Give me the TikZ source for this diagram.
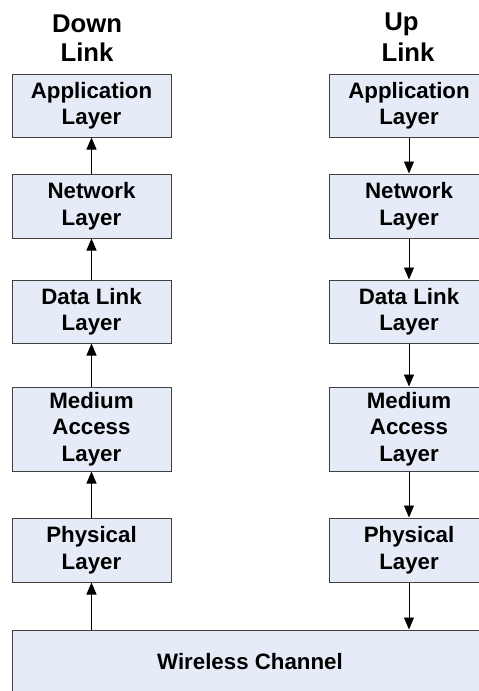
\documentclass[tikz,border=0pt]{standalone}
\usepackage{fontspec}
\setmainfont{Liberation Sans}
\usetikzlibrary{arrows.meta}
\definecolor{boxfill}{RGB}{230,236,247}
\definecolor{boxline}{RGB}{64,64,64}
\tikzset{
  layerbox/.style={draw=boxline, line width=1pt, fill=boxfill, minimum width=159pt,
    inner sep=0pt, align=center, font=\bfseries\fontsize{22.3}{26.5}\selectfont},
  heading/.style={inner sep=0pt, font=\bfseries\fontsize{25.7}{28}\selectfont},
  flow/.style={line width=0.9pt, -{Triangle[length=12pt,width=10pt]}}
}
\begin{document}
\begin{tikzpicture}[x=1pt,y=-1pt]
\useasboundingbox (0,0) rectangle (479,691);
% headings
\node[heading] (hd1) at (87,24) {Down};
\node[heading] (hd2) at (87,52) {Link};
\node[heading] (hu1) at (401.5,24) {Up};
\node[heading] (hu2) at (408,52) {Link};
% left column (down link)
\node[layerbox, minimum height=63pt] (lapp) at (91.5,105.5) {Application\\Layer};
\node[layerbox, minimum height=64pt] (lnet) at (91.5,206) {Network\\Layer};
\node[layerbox, minimum height=63pt] (ldll) at (91.5,311.5) {Data Link\\Layer};
\node[layerbox, minimum height=84pt] (lmac) at (91.5,429) {Medium\\Access\\Layer};
\node[layerbox, minimum height=64pt] (lphy) at (91.5,550) {Physical\\Layer};
% right column (up link)
\node[layerbox, minimum height=63pt] (rapp) at (409,105.5) {Application\\Layer};
\node[layerbox, minimum height=64pt] (rnet) at (409,206) {Network\\Layer};
\node[layerbox, minimum height=63pt] (rdll) at (409,311.5) {Data Link\\Layer};
\node[layerbox, minimum height=84pt] (rmac) at (409,429) {Medium\\Access\\Layer};
\node[layerbox, minimum height=64pt] (rphy) at (409,550) {Physical\\Layer};
% wireless channel
\node[layerbox, minimum width=476pt, minimum height=64pt] (wch) at (250,662) {Wireless Channel};
% down link arrows (upwards)
\draw[flow] (lnet.north) -- (lapp.south);
\draw[flow] (ldll.north) -- (lnet.south);
\draw[flow] (lmac.north) -- (ldll.south);
\draw[flow] (lphy.north) -- (lmac.south);
\draw[flow] (lphy.south |- wch.north) -- (lphy.south);
% up link arrows (downwards)
\draw[flow] (rapp.south) -- (rnet.north);
\draw[flow] (rnet.south) -- (rdll.north);
\draw[flow] (rdll.south) -- (rmac.north);
\draw[flow] (rmac.south) -- (rphy.north);
\draw[flow] (rphy.south) -- (rphy.south |- wch.north);
\end{tikzpicture}
\end{document}
